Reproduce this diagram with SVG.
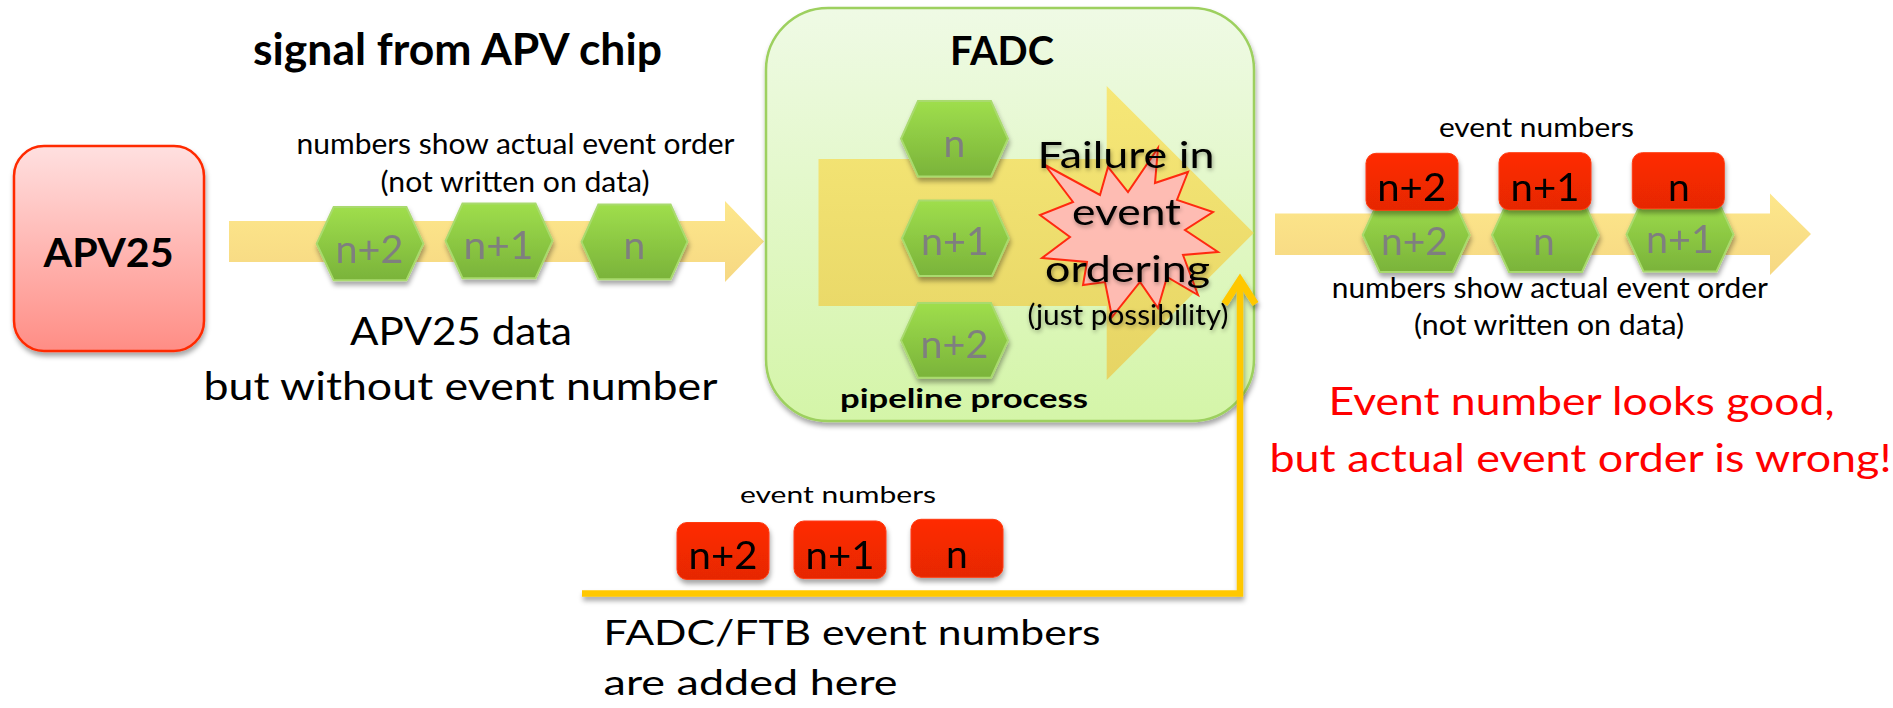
<svg xmlns="http://www.w3.org/2000/svg" width="1893" height="708" viewBox="0 0 1893 708">
  <style>
    text { font-family: Lato, "Open Sans", "Liberation Sans", sans-serif; }
    .b { font-weight: 700; fill: #000; }
    .r { font-weight: 400; fill: #000; }
    .gray { font-weight: 400; fill: #7F7F7F; font-size: 39px; }
    .blk { font-weight: 400; fill: #000; font-size: 39px; }
    .red { font-weight: 400; fill: #FF0000; font-size: 38px; }
    .hex { fill: url(#gHex); stroke: #A9DA6E; stroke-width: 2; }
    .rbox { fill: url(#gRed); stroke: #FF3A10; stroke-width: 1; }
    .band { fill: url(#gBand); }
  </style>
  <defs>
    <linearGradient id="gHex" x1="0" y1="0" x2="0" y2="1">
      <stop offset="0" stop-color="#9FDE4C"/>
      <stop offset="1" stop-color="#7AB33A"/>
    </linearGradient>
    <linearGradient id="gRed" x1="0" y1="0" x2="0" y2="1">
      <stop offset="0" stop-color="#FF2A00"/>
      <stop offset="1" stop-color="#E62800"/>
    </linearGradient>
    <linearGradient id="gBand" x1="0" y1="0" x2="0" y2="1">
      <stop offset="0" stop-color="#FDE78B"/>
      <stop offset="1" stop-color="#F6D883"/>
    </linearGradient>
    <linearGradient id="gBig" x1="0" y1="0" x2="0" y2="1">
      <stop offset="0" stop-color="#F8E56A"/>
      <stop offset="1" stop-color="#E8D05A"/>
    </linearGradient>
    <linearGradient id="gApv" x1="0" y1="0" x2="0" y2="1">
      <stop offset="0" stop-color="#FFE0E0"/>
      <stop offset="1" stop-color="#FF8D85"/>
    </linearGradient>
    <linearGradient id="gFadc" x1="0" y1="0" x2="0" y2="1">
      <stop offset="0" stop-color="#EFFAE5"/>
      <stop offset="1" stop-color="#D4F5A8"/>
    </linearGradient>
    <filter id="shadow" x="-20%" y="-20%" width="140%" height="150%">
      <feDropShadow dx="1" dy="4" stdDeviation="2.5" flood-color="#000" flood-opacity="0.35"/>
    </filter>
    <filter id="tshadow" x="-10%" y="-20%" width="120%" height="150%">
      <feDropShadow dx="1" dy="2" stdDeviation="2" flood-color="#000" flood-opacity="0.35"/>
    </filter>
    <polygon id="hexShape" points="0,37 17,0 90,0 107,37 90,74 17,74"/>
    <marker id="openArrow" markerUnits="userSpaceOnUse" markerWidth="60" markerHeight="60" viewBox="-40 -30 60 60" refX="0" refY="0" orient="auto" overflow="visible">
      <polyline points="-24,-15.5 0,0 -24,15.5" fill="none" stroke="#FFC800" stroke-width="7" stroke-linejoin="miter"/>
    </marker>
  </defs>

  <rect width="1893" height="708" fill="#FFFFFF"/>

  <!-- Left flow arrow -->
  <g id="arrow-left">
    <polygon class="band" points="229,221 725,221 725,201 764,241.5 725,282 725,262 229,262"/>
  </g>

  <!-- Right flow arrow -->
  <g id="arrow-right">
    <polygon class="band" points="1275,213.5 1770,213.5 1770,193.5 1811,234 1770,275 1770,255 1275,255"/>
  </g>

  <!-- APV25 node -->
  <g id="apv25">
    <rect x="14" y="146" width="190" height="205" rx="30" fill="url(#gApv)" stroke="#FF2A00" stroke-width="2.5" filter="url(#shadow)"/>
    <text class="b" x="108.6" y="267" font-size="40" text-anchor="middle" textLength="130" lengthAdjust="spacingAndGlyphs">APV25</text>
  </g>

  <!-- Title -->
  <g id="title-signal">
    <text class="b" x="457.5" y="65" font-size="43" text-anchor="middle" textLength="409" lengthAdjust="spacingAndGlyphs">signal from APV chip</text>
  </g>

  <g id="label-left-order">
    <text class="r" x="515.5" y="154.3" font-size="28" text-anchor="middle" textLength="438" lengthAdjust="spacingAndGlyphs">numbers show actual event order</text>
    <text class="r" x="515" y="191.7" font-size="28" text-anchor="middle" textLength="269" lengthAdjust="spacingAndGlyphs">(not written on data)</text>
  </g>

  <!-- Left hexagons -->
  <g id="hex-left-n2" filter="url(#shadow)">
    <use href="#hexShape" class="hex" transform="translate(316.7,207) scale(0.997,0.99)"/>
    <text class="gray" x="369.5" y="263.3" text-anchor="middle" textLength="68" lengthAdjust="spacingAndGlyphs">n+2</text>
  </g>
  <g id="hex-left-n1" filter="url(#shadow)">
    <use href="#hexShape" class="hex" transform="translate(445.5,203.5) scale(1,1.01)"/>
    <text class="gray" x="498.5" y="259" text-anchor="middle" textLength="70" lengthAdjust="spacingAndGlyphs">n+1</text>
  </g>
  <g id="hex-left-n" filter="url(#shadow)">
    <use href="#hexShape" class="hex" transform="translate(581.5,204.5) scale(0.99,1.01)"/>
    <text class="gray" x="634.5" y="259" text-anchor="middle">n</text>
  </g>

  <g id="label-apv-data">
    <text class="r" x="461" y="345" font-size="39" text-anchor="middle" textLength="222" lengthAdjust="spacingAndGlyphs">APV25 data</text>
    <text class="r" x="460.5" y="400" font-size="39" text-anchor="middle" textLength="514" lengthAdjust="spacingAndGlyphs">but without event number</text>
  </g>

  <!-- FADC node -->
  <g id="fadc">
    <rect x="766" y="8" width="488" height="413" rx="62" fill="url(#gFadc)" stroke="#9DD05E" stroke-width="2.5" filter="url(#shadow)"/>
    <text class="b" x="1002" y="65" font-size="41" text-anchor="middle" textLength="104" lengthAdjust="spacingAndGlyphs">FADC</text>
    <polygon points="818.5,159 1106.7,159 1106.7,86 1253.8,233 1106.7,380 1106.7,306 818.5,306" fill="url(#gBig)" opacity="0.88"/>
    <text class="b" x="964" y="408" font-size="27" text-anchor="middle" textLength="248" lengthAdjust="spacingAndGlyphs">pipeline process</text>
  </g>

  <!-- FADC hexagons -->
  <g id="hex-fadc-n" filter="url(#shadow)">
    <use href="#hexShape" class="hex" transform="translate(901,101) scale(1,1.02)"/>
    <text class="gray" x="954.5" y="157" text-anchor="middle">n</text>
  </g>
  <g id="hex-fadc-n1" filter="url(#shadow)">
    <use href="#hexShape" class="hex" transform="translate(902,200.5) scale(1,1.02)"/>
    <text class="gray" x="955" y="255" text-anchor="middle" textLength="68" lengthAdjust="spacingAndGlyphs">n+1</text>
  </g>
  <g id="hex-fadc-n2" filter="url(#shadow)">
    <use href="#hexShape" class="hex" transform="translate(901,303) scale(1,1.01)"/>
    <text class="gray" x="954.5" y="358" text-anchor="middle" textLength="68" lengthAdjust="spacingAndGlyphs">n+2</text>
  </g>

  <!-- Failure starburst -->
  <g id="failure">
    <polygon points="1045,165 1100,195 1108,167 1128,192 1158,148 1155,183 1188,172 1177,200 1213,212 1185,230 1218,252 1183,255 1198,295 1167,277 1158,308 1140,282 1112,317 1105,282 1083,285 1087,262 1042,258 1070,237 1040,215 1073,202" fill="#FFB8B8" fill-opacity="0.92" stroke="#FF2A10" stroke-width="2" stroke-linejoin="miter"/>
    <g filter="url(#tshadow)">
      <text class="r" x="1126" y="168" font-size="37" text-anchor="middle" textLength="177" lengthAdjust="spacingAndGlyphs">Failure in</text>
      <text class="r" x="1126.5" y="225" font-size="37" text-anchor="middle" textLength="109" lengthAdjust="spacingAndGlyphs">event</text>
      <text class="r" x="1127.5" y="282" font-size="37" text-anchor="middle" textLength="165" lengthAdjust="spacingAndGlyphs">ordering</text>
      <text class="r" x="1128" y="325" font-size="28" text-anchor="middle" textLength="201" lengthAdjust="spacingAndGlyphs">(just possibility)</text>
    </g>
  </g>

  <!-- Connector -->
  <g id="connectors" filter="url(#shadow)">
    <path d="M582,593.5 H1240 V280" fill="none" stroke="#FFC800" stroke-width="6.5" marker-end="url(#openArrow)"/>
  </g>

  <!-- Right hexagons -->
  <g id="hex-right-n2" filter="url(#shadow)">
    <use href="#hexShape" class="hex" transform="translate(1362.7,198)"/>
    <text class="gray" x="1414.5" y="255" text-anchor="middle" textLength="67" lengthAdjust="spacingAndGlyphs">n+2</text>
  </g>
  <g id="hex-right-n" filter="url(#shadow)">
    <use href="#hexShape" class="hex" transform="translate(1492,198)"/>
    <text class="gray" x="1544" y="255" text-anchor="middle">n</text>
  </g>
  <g id="hex-right-n1" filter="url(#shadow)">
    <use href="#hexShape" class="hex" transform="translate(1626.5,197.5)"/>
    <text class="gray" x="1680" y="252.7" text-anchor="middle" textLength="68" lengthAdjust="spacingAndGlyphs">n+1</text>
  </g>

  <!-- Right event numbers -->
  <g id="label-right-event-numbers">
    <text class="r" x="1536.4" y="136.7" font-size="26" text-anchor="middle" textLength="195" lengthAdjust="spacingAndGlyphs">event numbers</text>
  </g>
  <g id="evnum-right-n2" filter="url(#shadow)">
    <rect class="rbox" x="1366" y="153.3" width="92" height="57" rx="10"/>
    <text class="blk" x="1411.7" y="200.5" text-anchor="middle" textLength="69" lengthAdjust="spacingAndGlyphs">n+2</text>
  </g>
  <g id="evnum-right-n1" filter="url(#shadow)">
    <rect class="rbox" x="1499" y="152.7" width="92" height="57" rx="10"/>
    <text class="blk" x="1545" y="200.5" text-anchor="middle" textLength="69" lengthAdjust="spacingAndGlyphs">n+1</text>
  </g>
  <g id="evnum-right-n" filter="url(#shadow)">
    <rect class="rbox" x="1632.3" y="152.7" width="92" height="56" rx="10"/>
    <text class="blk" x="1679" y="200.5" text-anchor="middle">n</text>
  </g>

  <g id="label-right-order">
    <text class="r" x="1549.8" y="298.3" font-size="28" text-anchor="middle" textLength="436" lengthAdjust="spacingAndGlyphs">numbers show actual event order</text>
    <text class="r" x="1549" y="335" font-size="28" text-anchor="middle" textLength="270" lengthAdjust="spacingAndGlyphs">(not written on data)</text>
  </g>

  <g id="label-conclusion">
    <text class="red" x="1581.5" y="415" text-anchor="middle" textLength="506" lengthAdjust="spacingAndGlyphs">Event number looks good,</text>
    <text class="red" x="1580.5" y="471.7" text-anchor="middle" textLength="622" lengthAdjust="spacingAndGlyphs">but actual event order is wrong!</text>
  </g>

  <!-- Bottom event numbers -->
  <g id="label-bottom-event-numbers">
    <text class="r" x="838" y="503.3" font-size="24" text-anchor="middle" textLength="196" lengthAdjust="spacingAndGlyphs">event numbers</text>
  </g>
  <g id="evnum-bottom-n2" filter="url(#shadow)">
    <rect class="rbox" x="677" y="522.5" width="92" height="57" rx="10"/>
    <text class="blk" x="723" y="569" text-anchor="middle" textLength="69" lengthAdjust="spacingAndGlyphs">n+2</text>
  </g>
  <g id="evnum-bottom-n1" filter="url(#shadow)">
    <rect class="rbox" x="794" y="521" width="92" height="57.6" rx="10"/>
    <text class="blk" x="840" y="568.5" text-anchor="middle" textLength="69" lengthAdjust="spacingAndGlyphs">n+1</text>
  </g>
  <g id="evnum-bottom-n" filter="url(#shadow)">
    <rect class="rbox" x="911" y="519.3" width="92" height="58" rx="10"/>
    <text class="blk" x="957" y="568" text-anchor="middle">n</text>
  </g>

  <g id="label-fadc-ftb">
    <text class="r" x="603.6" y="645" font-size="34" textLength="497" lengthAdjust="spacingAndGlyphs">FADC/FTB event numbers</text>
    <text class="r" x="603.6" y="695" font-size="34" textLength="294" lengthAdjust="spacingAndGlyphs">are added here</text>
  </g>
</svg>
